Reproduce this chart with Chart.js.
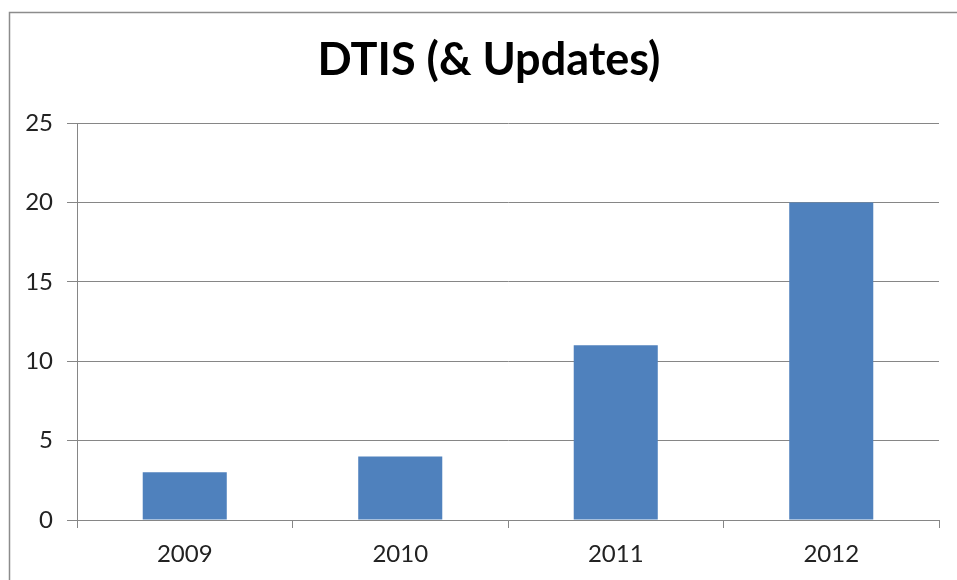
<!DOCTYPE html>
<html>
<head>
<meta charset="utf-8">
<script src="https://cdn.jsdelivr.net/npm/chart.js@4"></script>
<style>
  html, body { margin: 0; padding: 0; background: #fff; }
  #wrap { position: relative; width: 957px; height: 580px; }
</style>
</head>
<body>
<div id="wrap"><canvas id="dtis_chart" width="957" height="580"></canvas></div>
<script>
// 연도별 DTIS 건수
const years = ['2009', '2010', '2011', '2012'];
const dtisCounts = [3, 4, 11, 20];
const yTicks = [0, 5, 10, 15, 20, 25];
const chartTitle = 'DTIS (& Updates)';

const lineColor = '#868686';
const barColor = '#4f81bd';
const fontFamily = "Lato, 'Liberation Sans', Arial, sans-serif";

// 바깥 테두리 + 제목 (제목은 캔버스 전체 폭 기준 가운데)
const framePlugin = {
	id: 'frame',
	beforeDraw(chart) {
		const ctx = chart.ctx;
		ctx.save();
		ctx.fillStyle = '#fff';
		ctx.fillRect(0, 0, chart.width, chart.height);
		ctx.strokeStyle = '#8c8c8c';
		ctx.lineWidth = 1.5;
		ctx.strokeRect(9.5, 12.5, 2000, 2000);
		ctx.restore();
	},
	afterDraw(chart) {
		const ctx = chart.ctx;
		ctx.save();
		ctx.font = `bold 45px ${fontFamily}`;
		ctx.fillStyle = '#000';
		ctx.textAlign = 'center';
		ctx.textBaseline = 'middle';
		ctx.fillText(chartTitle, 489, 60);
		ctx.restore();
	}
};

const ctx = document.getElementById('dtis_chart').getContext('2d');
new Chart(ctx, {
	type: 'bar',
	data: {
		labels: years,
		datasets: [{
			label: 'DTIS',
			data: dtisCounts,
			backgroundColor: barColor,
			borderWidth: 0,
			barPercentage: 0.39,
			categoryPercentage: 1
		}]
	},
	options: {
		responsive: false,
		animation: false,
		layout: { padding: { left: 0, right: 18, top: 123, bottom: 0 } },
		plugins: {
			legend: { display: false },
			tooltip: { enabled: false },
			title: { display: false }
		},
		scales: {
			x: {
				offset: true,
				afterFit(scale) { scale.height = 60; },
				grid: {
					offset: true,
					drawOnChartArea: false,
					drawTicks: true,
					tickLength: 8,
					color: lineColor
				},
				border: { display: true, color: lineColor },
				ticks: {
					color: '#222',
					padding: 12,
					font: { family: fontFamily, size: 24 }
				}
			},
			y: {
				min: 0,
				max: 25,
				afterFit(scale) { scale.width = 77; },
				afterBuildTicks(scale) {
					scale.ticks = yTicks.map(v => ({ value: v }));
				},
				grid: {
					color: lineColor,
					drawTicks: true,
					tickLength: 10
				},
				border: { display: true, color: lineColor },
				ticks: {
					color: '#222',
					padding: 14,
					font: { family: fontFamily, size: 24 }
				}
			}
		}
	},
	plugins: [framePlugin]
});
</script>
</body>
</html>
